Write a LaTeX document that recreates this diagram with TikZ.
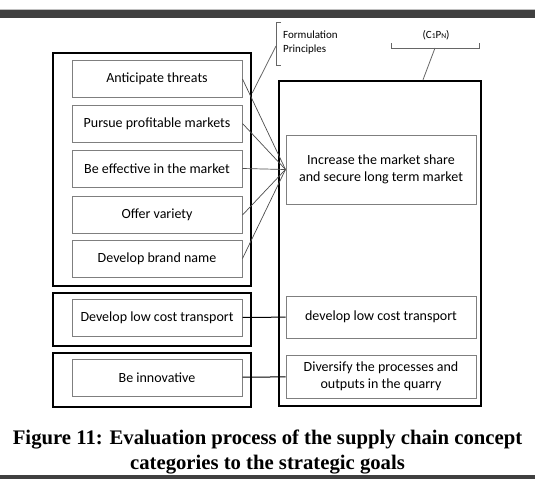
\documentclass[tikz,border=0pt]{standalone}
\usepackage{fontspec}
\setmainfont{Carlito}
\newfontfamily\capfont{Liberation Serif}
\definecolor{bargray}{HTML}{404040}
\definecolor{boxgray}{HTML}{7F7F7F}
\begin{document}
\begin{tikzpicture}[x=1pt,y=-1pt,
    item/.style={draw=boxgray, line width=1pt, minimum width=170pt, minimum height=37pt,
      inner sep=0pt, align=center, font=\fontsize{14}{17}\selectfont},
    goal/.style={item, minimum width=190pt},
    group/.style={draw, line width=2.4pt, inner sep=0pt},
    link/.style={draw=black!70, line width=.7pt},
    brace/.style={draw=black!60, line width=.8pt}]
  \useasboundingbox (0,0) rectangle (535,479);
  % bars
  \fill[bargray] (0,10) rectangle (535,18);
  \draw[black!25] (0,9) -- (535,9);
  \fill[bargray] (0,475) rectangle (535,479);
  % groups
  \node[group, minimum width=198pt, minimum height=233pt] (principles) at (152,169.5) {};
  \node[group, minimum width=198pt, minimum height=53pt] (transport) at (152,319.5) {};
  \node[group, minimum width=198pt, minimum height=54pt] (innovation) at (152,380) {};
  \node[group, minimum width=202pt, minimum height=325pt] (goals) at (380,243.5) {};
  % left items
  \node[item] (threats) at (157,79) {Anticipate threats};
  \node[item] (markets) at (157,123.5) {Pursue profitable markets};
  \node[item] (effective) at (157,168.5) {Be effective in the market};
  \node[item] (variety) at (157,215) {Offer variety};
  \node[item] (brand) at (157,258.5) {Develop brand name};
  \node[item] (lowcost) at (157,317.5) {Develop low cost transport};
  \node[item] (innov) at (157,377.5) {Be innovative};
  % right items
  \node[goal, minimum height=69pt] (share) at (381,169.5)
    {Increase the market share\\and secure long term market};
  \node[goal, minimum height=42pt] (cheap) at (381,317) {develop low cost transport};
  \node[goal, minimum height=43pt] (diversify) at (381,376.5)
    {Diversify the processes and\\outputs in the quarry};
  % links
  \foreach \n in {threats,markets,effective,variety,brand}
    \draw[link] (\n.east) -- (share.west);
  \draw[link, black, line width=1pt] (lowcost) -- (cheap);
  \draw[link, black, line width=1pt] (innov) -- (diversify);
  % labels
  \coordinate (fp) at (276,46);
  \draw[brace] (281,22) -- (276,22) -- (276,65) -- (281,65);
  \draw[brace] (fp) -- (principles.east |- 0,93);
  \node[anchor=west, align=left, inner sep=0pt, font=\fontsize{11}{14}\selectfont]
    (fplabel) at (283,43) {Formulation\\Principles};
  \coordinate (cp) at (435,48);
  \draw[brace] (391,43) -- (391,48) -- (479,48) -- (479,43);
  \draw[brace] (cp) -- (goals.north -| 423,0);
  \node[font=\fontsize{11}{12}\selectfont] (cplabel) at (436,35)
    {(C{\fontsize{7.5}{8}\selectfont 1}P{\fontsize{7.5}{8}\selectfont N})};
  % caption
  \node[align=center, inner sep=0pt, font=\capfont\bfseries\fontsize{20.7}{25}\selectfont]
    (caption) at (267.5,452) {Figure 11: Evaluation process of the supply chain concept\\categories to the strategic goals};
\end{tikzpicture}
\end{document}
